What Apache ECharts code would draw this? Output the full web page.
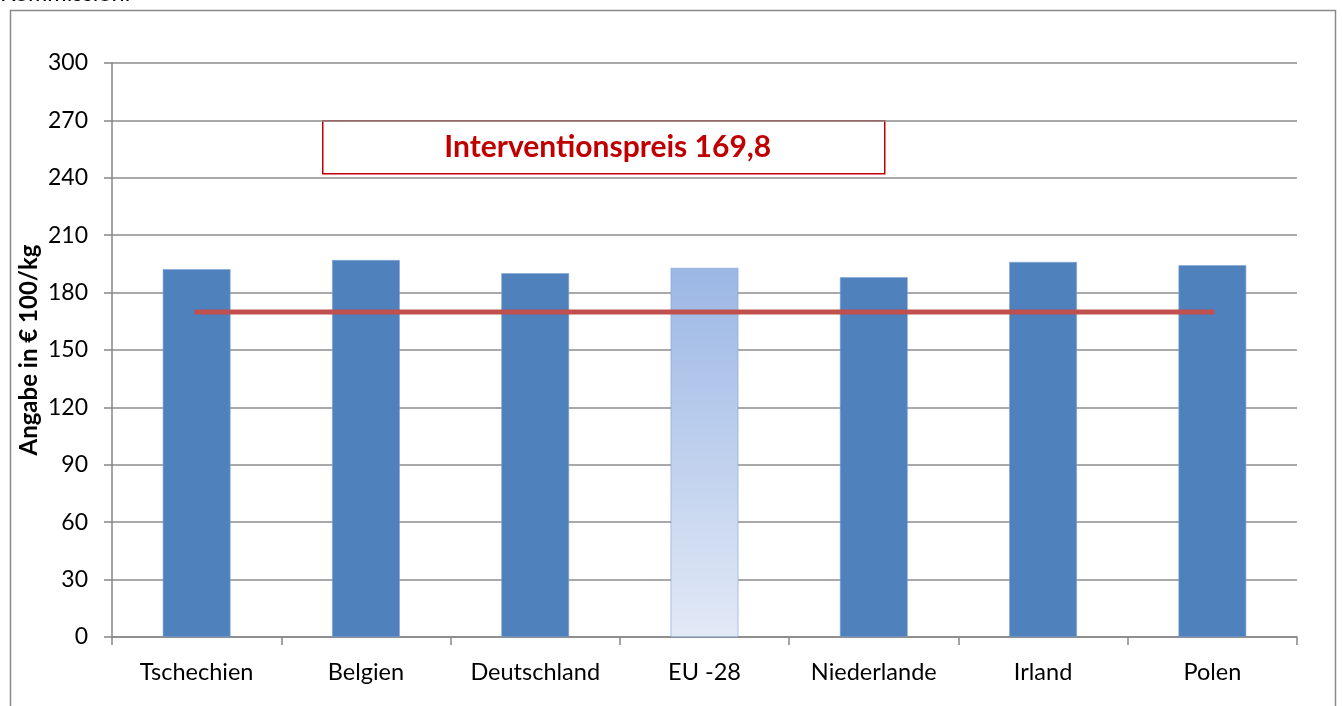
<!DOCTYPE html>
<html>
<head>
<meta charset="utf-8">
<script src="https://cdn.jsdelivr.net/npm/echarts@6/dist/echarts.min.js"></script>
<style>
  html, body { margin: 0; padding: 0; background: #fff; }
  #chart { width: 1342px; height: 706px; }
</style>
</head>
<body>
<div id="chart"></div>
<script>
// Daten
var laender = ['Tschechien', 'Belgien', 'Deutschland', 'EU -28', 'Niederlande', 'Irland', 'Polen'];
var preise = [192.2, 197.0, 190.1, 192.9, 188.0, 196.0, 194.3];
var interventionspreis = [169.8, 169.8, 169.8, 169.8, 169.8, 169.8, 169.8];
var yTicks = [0, 30, 60, 90, 120, 150, 180, 210, 240, 270, 300];

var font = 'Lato, "Open Sans", sans-serif';
var axisGrey = '#868686';

var chart = echarts.init(document.getElementById('chart'));

var barData = preise.map(function (v, i) {
  if (laender[i] === 'EU -28') {
    return {
      value: v,
      itemStyle: {
        color: new echarts.graphic.LinearGradient(0, 0, 0, 1, [
          { offset: 0, color: '#9BB7E5' },
          { offset: 1, color: '#E2E9F6' }
        ])
      }
    };
  }
  return v;
});

var option = {
  animation: false,
  backgroundColor: '#fff',
  grid: { left: 112, right: 45, top: 63, bottom: 69 },
  xAxis: {
    type: 'category',
    data: laender,
    axisLine: { lineStyle: { color: axisGrey, width: 1.5 } },
    axisTick: { show: true, length: 8, alignWithLabel: false, lineStyle: { color: axisGrey, width: 1.5 } },
    axisLabel: { color: '#000', fontFamily: font, fontSize: 23.5, margin: 23 }
  },
  yAxis: {
    type: 'value',
    min: yTicks[0],
    max: yTicks[yTicks.length - 1],
    interval: 30,
    name: 'Angabe in € 100/kg',
    nameLocation: 'middle',
    nameGap: 71,
    nameMoveOverlap: false,
    nameTextStyle: { color: '#000', fontFamily: font, fontSize: 24, fontWeight: 'bold' },
    axisLine: { show: true, lineStyle: { color: axisGrey, width: 1.5 } },
    axisTick: { show: true, length: 8, lineStyle: { color: axisGrey, width: 1.5 } },
    axisLabel: { color: '#000', fontFamily: font, fontSize: 23, margin: 24 },
    splitLine: { lineStyle: { color: '#8c8c8c', width: 1.5 } }
  },
  series: [
    {
      name: 'Preis',
      type: 'bar',
      data: barData,
      barWidth: '40%',
      itemStyle: { color: '#4F81BD', borderColor: '#7FA3D3', borderWidth: 0.6 }
    },
    {
      name: 'Interventionspreis',
      type: 'line',
      data: interventionspreis,
      symbol: 'none',
      lineStyle: { color: '#C0504D', width: 5, cap: 'round' },
      z: 5
    }
  ],
  graphic: [
    {
      type: 'rect',
      left: 8, top: 8,
      shape: { width: 1325, height: 720 },
      style: { fill: 'none', stroke: '#8a8a8a', lineWidth: 1.5 },
      silent: true
    },
    {
      type: 'text',
      left: 0, top: -19,
      style: { text: 'Kommission.', fill: '#000', font: '23.5px ' + font }
    },
    {
      type: 'group',
      left: 322, top: 120,
      children: [
        {
          type: 'rect',
          shape: { x: 0, y: 0, width: 562, height: 53 },
          style: { fill: '#fff', stroke: '#C00000', lineWidth: 1.5 }
        },
        {
          type: 'text',
          style: {
            x: 285, y: 27,
            text: 'Interventionspreis 169,8',
            fill: '#C00000',
            font: 'bold 30px ' + font,
            align: 'center',
            verticalAlign: 'middle'
          }
        }
      ]
    }
  ]
};

chart.setOption(option);
</script>
</body>
</html>
